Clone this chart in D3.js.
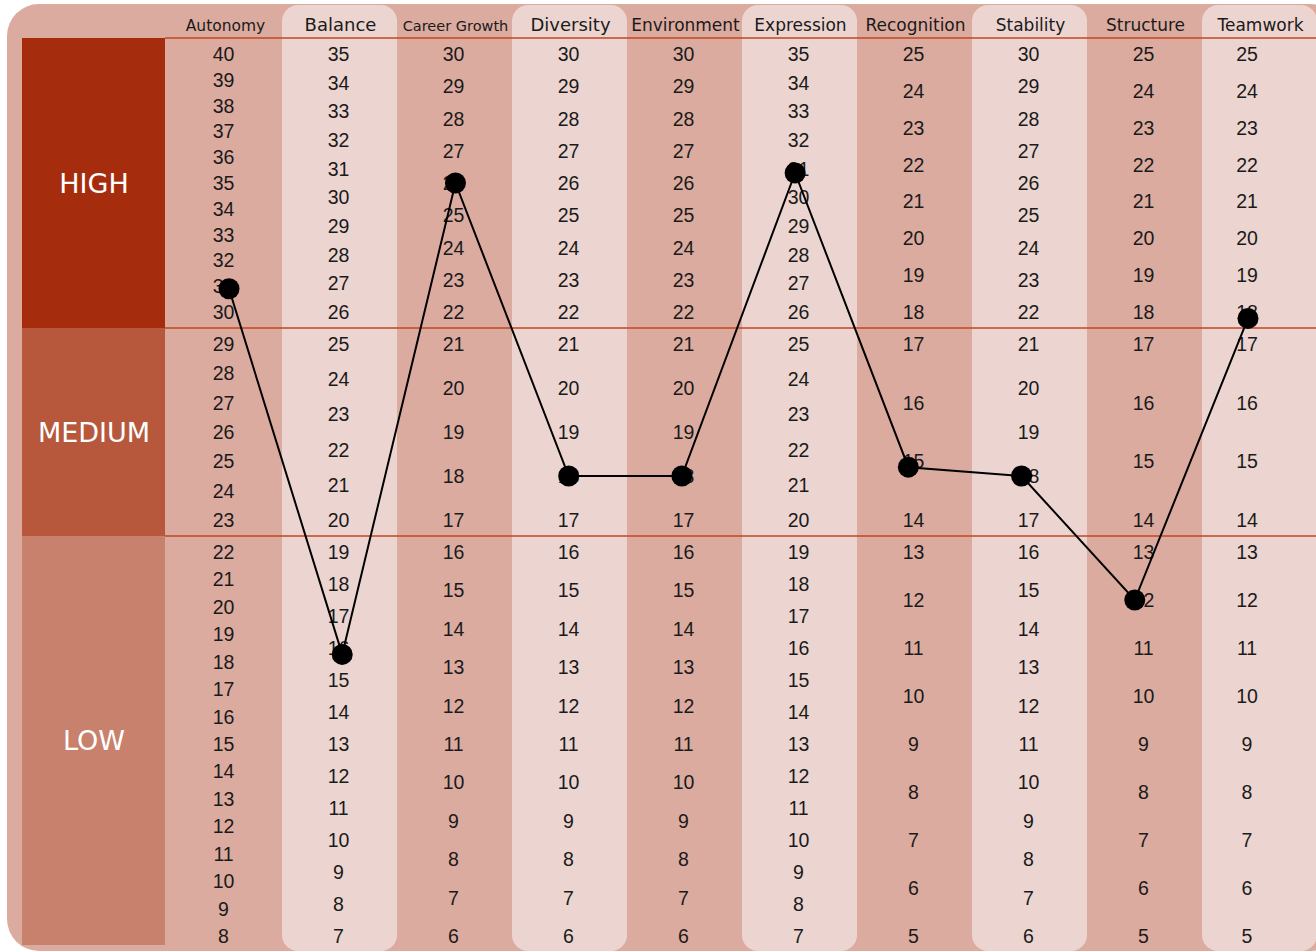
<!DOCTYPE html>
<html>
<head>
<meta charset="utf-8">
<script src="https://cdn.jsdelivr.net/npm/d3@7"></script>
<style>
  html, body { margin: 0; padding: 0; background: #ffffff; }
  svg { display: block; }
</style>
</head>
<body>
<svg id="chart"></svg>
<script>
// ============================================================================
// Data
// ============================================================================

const categories = ["Autonomy", "Balance", "Career Growth", "Diversity", "Environment",
  "Expression", "Recognition", "Stability", "Structure", "Teamwork"];

// score ranges per level, [max, min] for each category
const highRanges = [[40, 30], [35, 26], [30, 22], [30, 22], [30, 22], [35, 26], [25, 18], [30, 22], [25, 18], [25, 18]];
const mediumRanges = [[29, 23], [25, 20], [21, 17], [21, 17], [21, 17], [25, 20], [17, 14], [21, 17], [17, 14], [17, 14]];
const lowRanges = [[22, 8], [19, 7], [16, 6], [16, 6], [16, 6], [19, 7], [13, 5], [16, 6], [13, 5], [13, 5]];

const scores = [30.9, 15.8, 26, 18, 18, 30.85, 14.9, 18, 12, 17.8];

const levels = ["HIGH", "MEDIUM", "LOW"];

// ============================================================================
// Layout
// ============================================================================

const W = 1316, H = 951;
const COLORS = {
  panel: "#dcab9f",
  stripe: "#ecd5d0",
  rule: "#c2471f",
  levels: ["#a52d0e", "#b7583c", "#c8816c"]
};
// y-extent of each level band
const levelBands = [[38, 328], [328, 536], [536, 952]];
const PAD = 16;

const svg = d3.select("#chart").attr("width", W).attr("height", H);

const x = d3.scaleBand().domain(categories).range([166, 1316]).padding(0);
const xDot = d3.scalePoint().domain(categories).range([229, 1248]);

// piecewise scale per category, continuous across the level boundaries
function yScale(i) {
  const r = [highRanges[i], mediumRanges[i], lowRanges[i]];
  const domain = [], range = [];
  r.forEach((d, k) => {
    domain.push(d[0], d[1]);
    range.push(levelBands[k][0] + PAD, levelBands[k][1] - PAD);
  });
  return d3.scaleLinear().domain(domain).range(range);
}

// outer panel
svg.append("rect")
  .attr("x", 7).attr("y", 4)
  .attr("width", W + 20).attr("height", H - 4)
  .attr("rx", 32)
  .attr("fill", COLORS.panel);

// lighter alternating columns
svg.selectAll("rect.stripe")
  .data(categories.filter((d, i) => i % 2 === 1))
  .enter().append("rect")
  .attr("class", "stripe")
  .attr("x", d => x(d) + 1)
  .attr("y", 5)
  .attr("width", x.bandwidth())
  .attr("height", H - 5)
  .attr("rx", 16)
  .attr("fill", COLORS.stripe);

// level blocks on the left
const levelG = svg.append("g");
levelG.selectAll("rect")
  .data(levels)
  .enter().append("rect")
  .attr("x", 22)
  .attr("y", (d, i) => levelBands[i][0])
  .attr("width", 143)
  .attr("height", (d, i) => Math.min(levelBands[i][1], 945) - levelBands[i][0])
  .attr("fill", (d, i) => COLORS.levels[i]);

levelG.selectAll("text")
  .data(levels)
  .enter().append("text")
  .attr("x", 94)
  .attr("y", (d, i) => (levelBands[i][0] + Math.min(levelBands[i][1], 945)) / 2)
  .attr("dy", "0.36em")
  .attr("text-anchor", "middle")
  .attr("fill", "#ffffff")
  .attr("font-family", "DejaVu Sans, sans-serif")
  .attr("font-size", 27)
  .text(d => d);

// horizontal rules
svg.selectAll("line.rule")
  .data(levelBands.map(d => d[0]))
  .enter().append("line")
  .attr("class", "rule")
  .attr("x1", 165).attr("x2", W)
  .attr("y1", d => d).attr("y2", d => d)
  .attr("stroke", COLORS.rule)
  .attr("stroke-width", 1.4);

// column headers
const headerSize = { "Autonomy": 15.5, "Career Growth": 14.5, "Balance": 18, "Diversity": 18 };
svg.selectAll("text.header")
  .data(categories)
  .enter().append("text")
  .attr("class", "header")
  .attr("x", d => x(d) + x.bandwidth() / 2 + 2)
  .attr("y", 31)
  .attr("text-anchor", "middle")
  .attr("font-family", "DejaVu Sans, sans-serif")
  .attr("font-size", d => headerSize[d] || 17)
  .attr("fill", "#1a1a1a")
  .text(d => d);

// tick labels for each column
categories.forEach((cat, i) => {
  const y = yScale(i);
  const ticks = [];
  [highRanges[i], mediumRanges[i], lowRanges[i]].forEach(r => {
    for (let v = r[0]; v >= r[1]; v--) ticks.push(v);
  });
  const cx = i === categories.length - 1 ? x(cat) + 46 : x(cat) + x.bandwidth() / 2;
  svg.append("g")
    .selectAll("text")
    .data(ticks)
    .enter().append("text")
    .attr("x", cx)
    .attr("y", d => y(d))
    .attr("dy", "0.36em")
    .attr("text-anchor", "middle")
    .attr("font-family", "Liberation Sans, Arial, sans-serif")
    .attr("font-size", 19.5)
    .attr("fill", "#1a1a1a")
    .text(d => d);
});

// score line and markers
const points = categories.map((cat, i) => [xDot(cat), yScale(i)(scores[i])]);

svg.append("path")
  .datum(points)
  .attr("d", d3.line())
  .attr("fill", "none")
  .attr("stroke", "#000")
  .attr("stroke-width", 2);

svg.selectAll("circle.dot")
  .data(points)
  .enter().append("circle")
  .attr("class", "dot")
  .attr("cx", d => d[0])
  .attr("cy", d => d[1])
  .attr("r", 10.5)
  .attr("fill", "#000");
</script>
</body>
</html>
